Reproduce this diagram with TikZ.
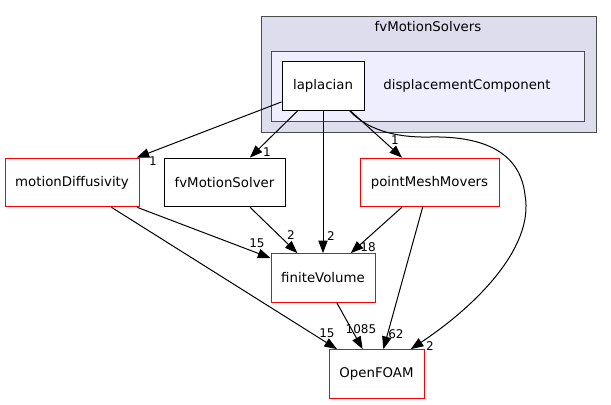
\documentclass[tikz,border=0pt]{standalone}
\usepackage{fontspec}
\setmainfont{DejaVu Sans}
\usetikzlibrary{arrows.meta}
\definecolor{outerfill}{HTML}{DDDDEE}
\definecolor{innerfill}{HTML}{EEEEFF}

\begin{document}
\begin{tikzpicture}[
    x=0.75pt, y=-0.75pt,
    dir/.style={draw, fill=white, line width=0.75pt, inner sep=0pt,
                minimum height=36.5pt, font=\fontsize{10}{12}\selectfont},
    hasdeps/.style={dir, draw=red},
    leaf/.style={dir, draw=black},
    cluster/.style={draw=black!70, line width=0.75pt},
    title/.style={font=\fontsize{10}{12}\selectfont},
    dep/.style={-{Triangle[length=9.5pt,width=7pt]}, line width=0.75pt},
    lbl/.style={font=\fontsize{9}{10}\selectfont, inner sep=0pt},
  ]
  \useasboundingbox (0,0) rectangle (611,404);

  % Clusters
  \draw[cluster, fill=outerfill] (261,16) rectangle (596,132);
  \node[title] (solvers) at (428,27) {fvMotionSolvers};
  \draw[cluster, fill=innerfill] (271,51) rectangle (584,121);
  \node[title] (dcomp) at (467,86) {displacementComponent};

  % Directories
  \node[leaf, minimum width=61.5pt] (lap) at (323,86) {laplacian};
  \node[hasdeps, minimum width=100.5pt] (md) at (72,182.5) {motionDiffusivity};
  \node[leaf, minimum width=90.75pt] (fvms) at (224.5,182.5) {fvMotionSolver};
  \node[hasdeps, minimum width=104.25pt] (pmm) at (429.5,182.5) {pointMeshMovers};
  \node[hasdeps, minimum width=78pt] (fvol) at (323,278) {finiteVolume};
  \node[hasdeps, minimum width=71.25pt] (of) at (376.5,374) {OpenFOAM};

  % Dependencies
  \foreach \from/\to/\lx/\ly/\n in {lap/md/153/161/1, lap/fvms/267/152/1,
                                     lap/fvol/331/236/2, lap/pmm/395/140/1,
                                     md/fvol/257/243/15, md/of/327/333/15,
                                     fvms/fvol/291/235/2, pmm/fvol/368/247/18,
                                     pmm/of/396/334/62, fvol/of/361/329/1085}
    \draw[dep] (\from) -- (\to) node[lbl] at (\lx,\ly) {\n};

  \draw[dep] (lap.-43) .. controls (362,124) and (385,138) .. (430,137)
    .. controls (480,136) and (520,150) .. (525,195)
    .. controls (535,250) and (470,310) .. (of.36)
    node[lbl] at (430,346) {2};
\end{tikzpicture}
\end{document}
